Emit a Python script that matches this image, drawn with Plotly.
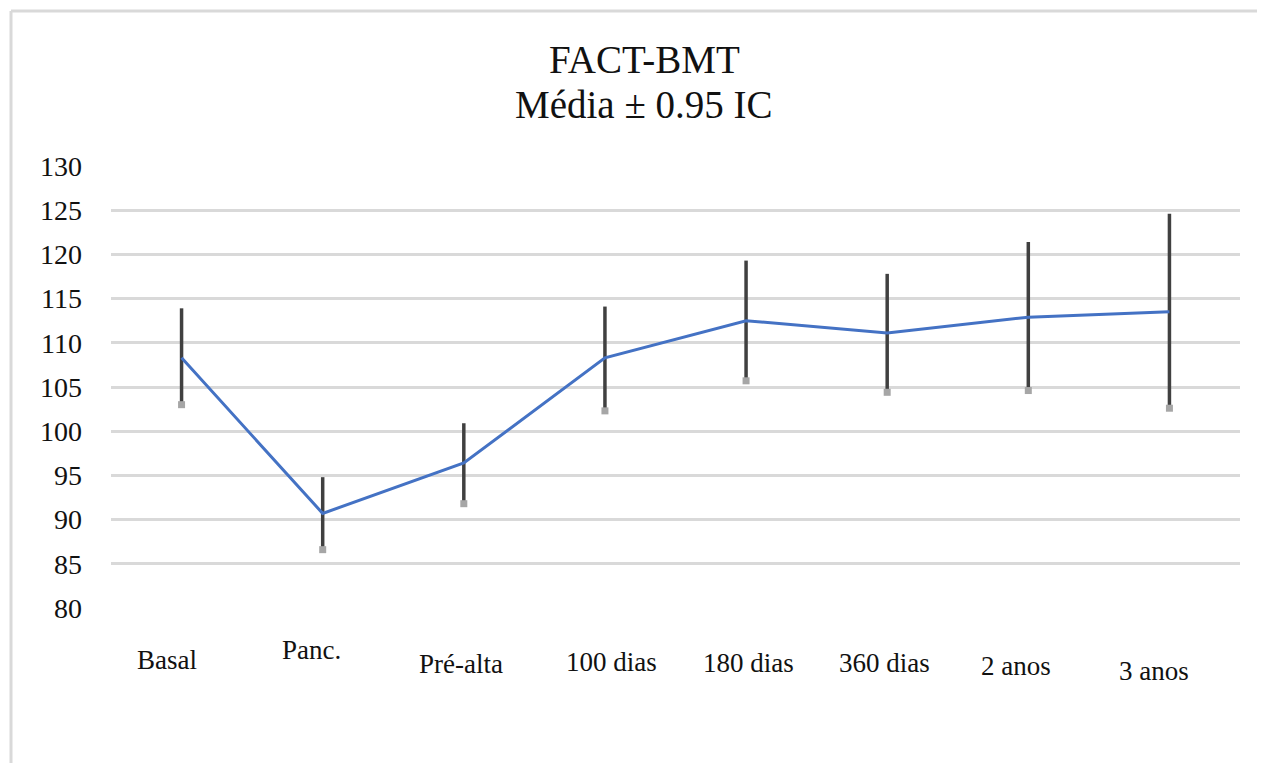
import plotly.graph_objects as go

categories = ["Basal", "Panc.", "Pré-alta", "100 dias", "180 dias", "360 dias", "2 anos", "3 anos"]
means = [108.3, 90.7, 96.4, 108.3, 112.5, 111.1, 112.9, 113.5]
upper = [113.9, 94.8, 100.9, 114.1, 119.3, 117.8, 121.4, 124.6]
lower = [103.0, 86.6, 91.8, 102.3, 105.7, 104.4, 104.6, 102.6]
y_ticks = [80, 85, 90, 95, 100, 105, 110, 115, 120, 125, 130]
title_lines = ["FACT-BMT", "Média ± 0.95 IC"]

# label placement tweaks (pixels), mimicking the original layout
label_xshift = [-15, -11, -3, 7, 2, -3, -12, -15]
label_yshift = [-52, -42, -56, -54, -55, -55, -58, -63]

SERIF = "Liberation Serif, Times New Roman, serif"

# page body has an 8px margin, so the figure is drawn from (8, 8)
OFF = 8
W, H = 1265 - OFF, 763 - OFF
ML, MT = 111 - OFF, 166 - OFF
PW, PH = 1129, 442
MR = W - ML - PW
MB = H - MT - PH

fig = go.Figure()

fig.add_trace(go.Scatter(
    x=categories, y=means, mode="lines",
    line=dict(color="#4472c4", width=3),
    error_y=dict(type="data", symmetric=False,
                 array=[u - m for u, m in zip(upper, means)],
                 arrayminus=[m - l for m, l in zip(means, lower)],
                 color="#404040", thickness=3.5, width=0),
    showlegend=False, hoverinfo="y"))

fig.add_trace(go.Scatter(
    x=categories, y=lower, mode="markers",
    marker=dict(symbol="square", size=7, color="#a6a6a6"),
    showlegend=False, hoverinfo="y"))

def px_x(px):
    return (px - OFF - ML) / PW

def px_y(py):
    return (H - MB - (py - OFF)) / PH

annotations = []
for c, xs, ys in zip(categories, label_xshift, label_yshift):
    annotations.append(dict(x=c, y=0, xref="x", yref="paper", text=c,
                            showarrow=False, xshift=xs, yshift=ys,
                            xanchor="center", yanchor="middle",
                            font=dict(family=SERIF, size=27, color="#111111")))

for line_text, py in zip(title_lines, [60, 104]):
    annotations.append(dict(x=px_x(644), y=px_y(py), xref="paper", yref="paper", text=line_text,
                            showarrow=False, xanchor="center", yanchor="middle",
                            font=dict(family=SERIF, size=39, color="#111111")))

border = dict(color="#d9d9d9", width=3)
shapes = [
    dict(type="line", xref="paper", yref="paper", x0=px_x(11), x1=px_x(11), y0=px_y(11), y1=px_y(775), line=border),
    dict(type="line", xref="paper", yref="paper", x0=px_x(11), x1=px_x(1275), y0=px_y(11), y1=px_y(11), line=border),
]

fig.update_layout(
    width=W, height=H,
    margin=dict(l=ML, r=MR, t=MT, b=MB),
    paper_bgcolor="white", plot_bgcolor="white",
    font=dict(family=SERIF, color="#111111"),
    xaxis=dict(range=[-0.5, len(categories) - 0.5], showticklabels=False, showgrid=False,
               zeroline=False, showline=False, ticks=""),
    yaxis=dict(range=[80, 130], tickvals=y_ticks, showgrid=True, gridcolor="#d9d9d9", gridwidth=3,
               zeroline=False, showline=False, ticks="", ticklabelstandoff=28,
               tickfont=dict(family=SERIF, size=28, color="#111111")),
    annotations=annotations,
    shapes=shapes,
)

fig.write_html("out.html")
